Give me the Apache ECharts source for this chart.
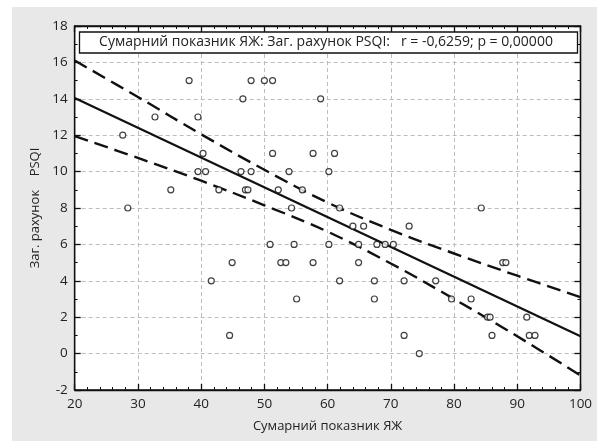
<!DOCTYPE html>
<html>
<head>
<meta charset="utf-8">
<script src="https://cdn.jsdelivr.net/npm/echarts@6/dist/echarts.min.js"></script>
<style>
  body { margin: 0; background: #fff; }
  #wrap { position: relative; width: 597px; height: 441px; }
  #panel { position: absolute; left: 12px; top: 7px; right: 0; bottom: 0; background: #e8e8e8; }
  #chart { position: absolute; left: 0; top: 0; width: 597px; height: 441px; }
</style>
</head>
<body>
<div id="wrap">
  <div id="panel"></div>
  <div id="chart"></div>
</div>
<script>
// Сумарний показник ЯЖ vs Заг. рахунок PSQI
const points = [
    [38.1, 15], [47.9, 15], [50.0, 15], [51.3, 15],
    [46.6, 14], [58.9, 14],
    [32.7, 13], [39.5, 13],
    [27.6, 12],
    [40.3, 11], [51.3, 11], [57.7, 11], [61.1, 11],
    [39.5, 10], [40.7, 10], [46.3, 10], [47.9, 10], [53.9, 10], [60.2, 10],
    [35.2, 9], [42.8, 9], [47.0, 9], [47.4, 9], [52.2, 9], [56.0, 9],
    [28.4, 8], [54.3, 8], [61.9, 8], [84.3, 8],
    [64.0, 7], [65.7, 7], [72.9, 7],
    [50.9, 6], [54.7, 6], [60.2, 6], [64.9, 6], [67.8, 6], [69.1, 6], [70.4, 6],
    [44.9, 5], [52.6, 5], [53.4, 5], [57.7, 5], [64.9, 5], [87.7, 5], [88.2, 5],
    [41.6, 4], [61.9, 4], [67.4, 4], [72.1, 4], [77.1, 4],
    [55.1, 3], [67.4, 3], [79.6, 3], [82.7, 3],
    [85.3, 2], [85.7, 2], [91.5, 2],
    [44.5, 1], [72.1, 1], [86.0, 1], [91.9, 1], [92.8, 1],
    [74.5, 0]
];
const fitLine = [[20, 14.04], [100, 0.95]];
const bandX = [20, 30, 40, 50, 60, 70, 80, 90, 100];
const bandUpper = [16.1, 14.1, 12.05, 10.1, 8.3, 6.8, 5.5, 4.28, 3.1];
const bandLower = [11.95, 10.75, 9.5, 8.15, 6.7, 4.95, 3.0, 0.95, -1.2];
const titleText = 'Сумарний показник ЯЖ: Заг. рахунок PSQI:   r = -0,6259; p = 0,00000';

let chart = echarts.init(document.getElementById('chart'));

const font = '"Open Sans", "DejaVu Sans", sans-serif';
const tickStyle = { inside: true, length: 6, lineStyle: { color: '#111', width: 1.3 } };
const minorStyle = { show: true, length: 3, lineStyle: { color: '#111', width: 1 } };
const axisLine = { show: true, onZero: false, lineStyle: { color: '#111', width: 1.3 } };

const option = {
    animation: false,
    textStyle: { fontFamily: font },
    grid: {
        left: 74.7,
        right: 16.5,
        top: 26,
        bottom: 51,
        show: true,
        backgroundColor: '#fff',
        borderColor: '#111',
        borderWidth: 1.3
    },
    graphic: [
        {
            type: 'rect',
            z: 100,
            shape: { x: 79.5, y: 32, width: 498, height: 21 },
            style: { fill: '#fff', stroke: '#111', lineWidth: 1.3 }
        },
        {
            type: 'text',
            z: 101,
            x: 326,
            y: 42.5,
            style: {
                text: titleText,
                fill: '#222',
                font: '14px ' + font,
                align: 'center',
                verticalAlign: 'middle'
            }
        }
    ],
    xAxis: [
        {
            type: 'value',
            min: 20,
            max: 100,
            interval: 10,
            name: 'Сумарний показник ЯЖ',
            nameLocation: 'middle',
            nameGap: 30,
            nameTextStyle: { fontSize: 13, color: '#222' },
            axisLine: axisLine,
            axisTick: tickStyle,
            minorTick: Object.assign({ splitNumber: 5 }, minorStyle),
            axisLabel: { fontSize: 13.5, color: '#222', margin: 7 },
            splitLine: { show: true, lineStyle: { color: '#bdbdbd', type: [4, 3] } }
        },
        {
            type: 'value',
            position: 'top',
            min: 20,
            max: 100,
            interval: 10,
            axisLine: axisLine,
            axisTick: tickStyle,
            minorTick: Object.assign({ splitNumber: 5 }, minorStyle),
            axisLabel: { show: false },
            splitLine: { show: false }
        }
    ],
    yAxis: [
        {
            type: 'value',
            min: -2,
            max: 18,
            interval: 2,
            name: 'Заг. рахунок    PSQI',
            nameLocation: 'middle',
            nameGap: 33,
            nameTextStyle: { fontSize: 13, color: '#222' },
            axisLine: axisLine,
            axisTick: tickStyle,
            minorTick: Object.assign({ splitNumber: 2 }, minorStyle),
            axisLabel: { fontSize: 13.5, color: '#222', margin: 7 },
            splitLine: { show: true, lineStyle: { color: '#bdbdbd', type: [4, 3] } }
        },
        {
            type: 'value',
            position: 'right',
            min: -2,
            max: 18,
            interval: 2,
            axisLine: axisLine,
            axisTick: tickStyle,
            minorTick: Object.assign({ splitNumber: 2 }, minorStyle),
            axisLabel: { show: false },
            splitLine: { show: false }
        }
    ],
    series: [
        {
            name: 'upper',
            type: 'line',
            smooth: 0.4,
            showSymbol: false,
            data: bandX.map((x, i) => [x, bandUpper[i]]),
            lineStyle: { color: '#111', width: 2.4, type: [14, 7] }
        },
        {
            name: 'lower',
            type: 'line',
            smooth: 0.4,
            showSymbol: false,
            data: bandX.map((x, i) => [x, bandLower[i]]),
            lineStyle: { color: '#111', width: 2.4, type: [14, 7] }
        },
        {
            name: 'fit',
            type: 'line',
            showSymbol: false,
            data: fitLine,
            lineStyle: { color: '#111', width: 2.2 }
        },
        {
            name: 'points',
            type: 'scatter',
            symbol: 'circle',
            symbolSize: 6,
            data: points,
            itemStyle: { color: '#fff', borderColor: '#111', borderWidth: 1.2 },
            z: 5
        }
    ]
};

option && chart.setOption(option);
window.addEventListener('resize', chart.resize);
</script>
</body>
</html>
